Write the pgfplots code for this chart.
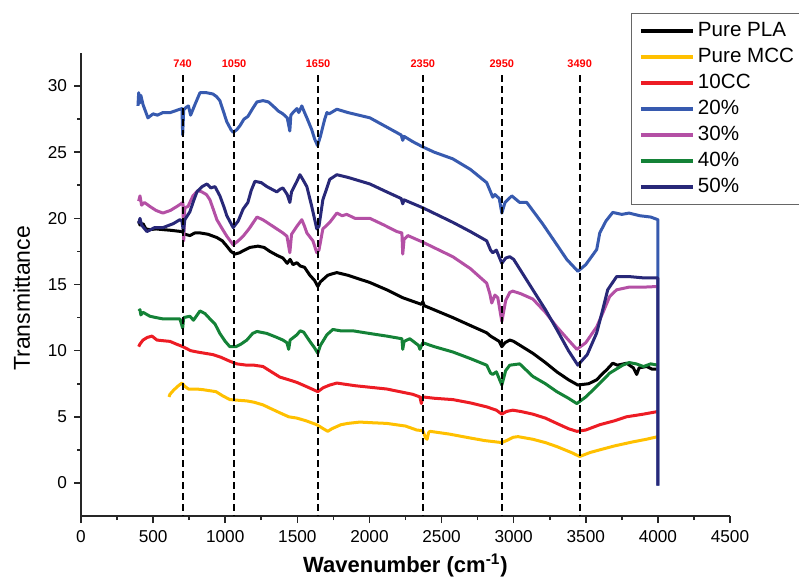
\documentclass[border=0pt]{standalone}
\usepackage{fontspec}
\setmainfont{Liberation Sans}
\usepackage{pgfplots}
\pgfplotsset{compat=1.18}

\definecolor{cmcc}{RGB}{255,192,0}
\definecolor{ccc}{RGB}{237,28,36}
\definecolor{c20}{RGB}{55,90,175}
\definecolor{c30}{RGB}{180,80,165}
\definecolor{c40}{RGB}{20,130,55}
\definecolor{c50}{RGB}{40,40,120}

\tikzset{peakline/.style={black, line width=0.9pt, dash pattern=on 3.5pt off 2pt},
  peaklab/.style={text=red, font=\bfseries\fontsize{5.5}{6}\selectfont}}

\begin{document}
\begin{tikzpicture}
\begin{axis}[
  at={(0,0)}, anchor=south west,
  scale only axis,
  width=324.5pt, height=231.5pt,
  xmin=0, xmax=4500, ymin=-2.5, ymax=32.5,
  axis x line*=bottom, axis y line*=left,
  axis line style={line width=0.9pt, black!85},
  xtick={0,500,...,4500}, ytick={0,5,...,30},
  minor x tick num=1, minor y tick num=1,
  tick align=outside,
  major tick length=3.5pt, minor tick length=2pt,
  tick style={line width=0.8pt, black!85},
  /pgf/number format/1000 sep={},
  /pgf/number format/assume math mode=true,
  ticklabel style={font=\fontsize{8.6}{10}\selectfont},
  xlabel={\textbf{Wavenumber (cm\textsuperscript{-1})}},
  ylabel={Transmittance},
  xlabel style={font=\fontsize{11}{13}\selectfont, yshift=1pt},
  ylabel style={font=\fontsize{11.5}{13}\selectfont, at={(ticklabel cs:0.47)}, yshift=2pt},
  legend style={at={(rel axis cs:0.847,1.086)}, anchor=north west,
    draw=black!60, line width=0.5pt,
    font=\fontsize{10.3}{11}\selectfont,
    inner xsep=4pt, inner ysep=2.2pt, row sep=0pt,
    nodes={inner xsep=1.6pt, inner ysep=0pt, text height=9pt, text depth=4pt}},
  legend cell align=left,
  legend image code/.code={\draw[#1, line width=1.8pt] (0pt,0pt) -- (26pt,0pt);},
  every axis plot/.append style={line width=1.5pt, line join=round},
]

% Pure PLA
\addplot[black] coordinates {
(400,19.8)(409,19.5)(430,19.6)(450,19.2)(478,19.15)(520,19.2)(568,19.15)(620,19.1)(700,19.0)(720,18.8)(755,18.7)(790,18.9)(825,18.9)(880,18.8)(942,18.55)(980,18.3)(1011,17.9)(1040,17.5)(1067,17.3)(1100,17.4)(1124,17.55)(1170,17.8)(1227,17.9)(1270,17.8)(1310,17.5)(1360,17.2)(1400,17.0)(1430,16.6)(1450,16.9)(1470,16.5)(1497,16.65)(1520,16.4)(1550,16.3)(1587,15.7)(1620,15.3)(1642,14.85)(1660,15.2)(1711,15.7)(1740,15.8)(1774,15.9)(1850,15.7)(2003,15.15)(2120,14.6)(2231,14.0)(2360,13.5)(2370,13.7)(2380,13.4)(2578,12.5)(2700,11.9)(2813,11.35)(2840,11.1)(2870,10.9)(2900,10.7)(2918,10.3)(2940,10.6)(2973,10.8)(3000,10.7)(3133,9.8)(3220,9.1)(3299,8.4)(3380,7.8)(3445,7.4)(3520,7.5)(3576,7.8)(3620,8.3)(3645,8.55)(3687,9.05)(3720,8.9)(3783,9.05)(3830,8.7)(3853,8.2)(3870,8.7)(3922,8.8)(3960,8.6)(4000,8.6)
};
\addlegendentry{Pure PLA}

% Pure MCC
\addplot[cmcc] coordinates {
(610,6.5)(617,6.7)(641,7.0)(670,7.3)(700,7.55)(720,7.3)(745,7.1)(800,7.1)(845,7.05)(936,6.9)(980,6.6)(1032,6.3)(1090,6.25)(1150,6.2)(1200,6.1)(1262,5.9)(1320,5.6)(1379,5.3)(1440,5.0)(1497,4.9)(1560,4.7)(1635,4.4)(1680,4.1)(1711,3.9)(1740,4.1)(1802,4.4)(1850,4.5)(1933,4.6)(2020,4.55)(2120,4.5)(2250,4.3)(2328,4.0)(2370,3.95)(2390,3.4)(2400,3.3)(2410,3.8)(2420,3.9)(2550,3.7)(2697,3.4)(2800,3.2)(2918,3.05)(2950,3.2)(2997,3.45)(3030,3.5)(3133,3.3)(3220,3.05)(3299,2.75)(3400,2.3)(3458,2.0)(3530,2.3)(3597,2.5)(3700,2.8)(3825,3.1)(3920,3.3)(4000,3.5)
};
\addlegendentry{Pure MCC}

% 10CC
\addplot[ccc] coordinates {
(400,10.3)(409,10.5)(430,10.8)(460,11.0)(492,11.1)(527,10.8)(570,10.75)(617,10.7)(660,10.5)(707,10.3)(760,10.0)(804,9.9)(860,9.8)(915,9.7)(970,9.5)(1032,9.2)(1080,9.0)(1150,8.9)(1200,8.9)(1262,8.8)(1320,8.4)(1379,8.0)(1440,7.8)(1497,7.6)(1560,7.3)(1642,6.9)(1680,7.2)(1725,7.4)(1774,7.55)(1900,7.35)(2120,7.1)(2300,6.7)(2350,6.5)(2360,6.0)(2370,6.5)(2450,6.4)(2578,6.3)(2700,6.05)(2813,5.75)(2880,5.5)(2918,5.2)(2950,5.4)(2994,5.5)(3050,5.4)(3133,5.2)(3220,4.9)(3299,4.5)(3380,4.1)(3438,3.9)(3500,4.0)(3597,4.4)(3700,4.7)(3783,5.0)(3900,5.2)(4000,5.4)
};
\addlegendentry{10CC}

% 20%
\addplot[c20] coordinates {
(395,28.5)(400,29.5)(405,28.7)(415,29.3)(430,28.6)(464,27.6)(500,27.9)(530,27.8)(568,28.0)(620,28.0)(686,28.25)(700,28.3)(705,26.3)(712,28.2)(730,28.4)(745,28.5)(760,27.8)(790,28.6)(825,29.5)(870,29.5)(915,29.4)(940,29.2)(963,28.9)(990,28.0)(1011,27.3)(1040,26.7)(1055,26.5)(1080,26.7)(1102,27.0)(1130,27.5)(1157,27.7)(1190,28.3)(1220,28.8)(1262,28.9)(1300,28.8)(1331,28.5)(1370,28.1)(1400,27.9)(1430,27.6)(1448,26.6)(1455,27.8)(1470,28.0)(1497,28.3)(1510,28.0)(1531,28.5)(1550,28.0)(1566,27.6)(1600,26.7)(1620,26.0)(1640,25.5)(1660,26.2)(1690,27.5)(1705,28.0)(1720,27.9)(1774,28.25)(1850,28.0)(2003,27.6)(2120,26.9)(2220,26.3)(2231,25.9)(2240,26.2)(2300,25.8)(2370,25.4)(2450,25.0)(2578,24.5)(2700,23.7)(2813,22.7)(2840,22.0)(2855,21.6)(2870,21.8)(2900,21.5)(2918,20.4)(2940,21.2)(2987,21.7)(3042,21.2)(3091,21.2)(3200,19.6)(3300,18.0)(3368,16.9)(3445,16.0)(3500,16.5)(3576,17.65)(3597,18.9)(3640,19.8)(3687,20.45)(3750,20.3)(3800,20.4)(3874,20.2)(3950,20.1)(4000,19.9)(4000,-0.2)
};
\addlegendentry{20\%}

% 30%
\addplot[c30] coordinates {
(400,21.3)(409,21.7)(420,21.0)(440,21.2)(478,20.9)(520,20.6)(568,20.4)(620,20.6)(665,20.9)(707,21.2)(712,18.3)(720,20.8)(742,20.9)(776,21.7)(810,22.1)(838,22.0)(870,21.8)(894,21.4)(920,20.6)(942,19.9)(980,19.2)(1011,18.65)(1055,18.0)(1090,18.3)(1124,18.65)(1150,19.0)(1171,19.3)(1220,20.1)(1260,19.9)(1289,19.7)(1358,19.2)(1400,18.9)(1428,18.65)(1448,17.4)(1460,18.8)(1497,19.4)(1531,19.9)(1550,19.4)(1566,18.9)(1608,18.3)(1635,17.4)(1650,17.6)(1677,19.2)(1725,19.7)(1774,20.4)(1810,20.2)(1843,20.3)(1900,20.0)(2003,20.0)(2100,19.5)(2190,19.0)(2225,18.9)(2231,17.3)(2240,18.4)(2266,18.7)(2370,18.2)(2578,17.1)(2700,16.2)(2813,15.1)(2835,14.3)(2848,13.6)(2870,14.2)(2890,14.0)(2918,12.2)(2945,13.8)(2973,14.4)(2994,14.5)(3050,14.3)(3133,13.9)(3220,12.9)(3299,11.8)(3380,10.8)(3438,10.1)(3500,10.6)(3576,11.8)(3620,12.9)(3666,14.1)(3714,14.6)(3800,14.8)(3900,14.8)(4000,14.85)
};
\addlegendentry{30\%}

% 40%
\addplot[c40] coordinates {
(400,13.0)(409,13.1)(415,12.7)(430,12.9)(478,12.6)(520,12.5)(568,12.4)(640,12.4)(686,12.4)(705,11.7)(712,12.5)(755,12.6)(780,12.3)(825,13.0)(860,12.8)(894,12.4)(930,12.0)(963,11.3)(1000,10.7)(1032,10.3)(1075,10.3)(1110,10.5)(1150,10.8)(1190,11.3)(1220,11.45)(1289,11.3)(1358,11.0)(1400,10.8)(1428,10.6)(1440,10.1)(1450,10.8)(1497,11.2)(1520,11.5)(1544,11.4)(1587,10.7)(1620,10.2)(1642,9.8)(1660,10.4)(1705,11.2)(1746,11.6)(1800,11.5)(1885,11.5)(2000,11.3)(2120,11.1)(2225,10.9)(2231,10.1)(2240,10.7)(2280,10.9)(2340,10.4)(2350,10.1)(2370,10.6)(2450,10.3)(2578,9.9)(2700,9.4)(2813,8.9)(2840,8.3)(2855,8.2)(2880,8.4)(2918,7.4)(2945,8.5)(2973,8.9)(3042,9.0)(3133,8.05)(3220,7.5)(3299,6.9)(3380,6.4)(3438,6.0)(3500,6.5)(3576,7.3)(3666,8.3)(3756,8.9)(3800,9.1)(3850,9.0)(3900,8.8)(3950,9.0)(4000,8.9)
};
\addlegendentry{40\%}

% 50%
\addplot[c50] coordinates {
(400,19.6)(409,20.0)(420,19.5)(457,19.0)(510,19.3)(568,19.3)(640,19.6)(686,19.9)(700,19.8)(710,19.0)(720,19.9)(755,20.5)(780,21.3)(804,22.0)(840,22.4)(873,22.6)(900,22.3)(929,22.4)(963,21.7)(990,20.9)(1011,20.2)(1055,19.3)(1090,19.8)(1124,20.7)(1157,21.2)(1180,22.1)(1206,22.8)(1250,22.7)(1289,22.4)(1358,22.0)(1380,22.2)(1400,22.3)(1430,21.8)(1448,21.2)(1460,22.0)(1497,22.8)(1518,23.3)(1540,22.9)(1566,22.4)(1600,20.9)(1635,19.2)(1650,19.4)(1677,21.4)(1725,22.95)(1774,23.3)(1850,23.1)(2003,22.6)(2120,22.0)(2220,21.5)(2231,21.1)(2240,21.4)(2370,20.8)(2578,19.7)(2700,19.0)(2813,18.3)(2840,17.6)(2855,17.4)(2880,17.6)(2918,16.6)(2945,17.0)(2973,17.1)(3000,16.9)(3133,14.6)(3220,13.1)(3299,11.6)(3380,10.0)(3445,8.9)(3510,9.7)(3576,11.35)(3620,13.2)(3652,14.6)(3714,15.6)(3800,15.6)(3900,15.5)(4000,15.5)(4000,-0.2)
};
\addlegendentry{50\%}

% reference lines and peak labels
\draw[peakline] (axis cs:705,30.8) -- (axis cs:705,-2.5);
\draw[peakline] (axis cs:1061,30.8) -- (axis cs:1061,-2.5);
\draw[peakline] (axis cs:1644,30.8) -- (axis cs:1644,-2.5);
\draw[peakline] (axis cs:2370,30.8) -- (axis cs:2370,-2.5);
\draw[peakline] (axis cs:2918,30.8) -- (axis cs:2918,-2.5);
\draw[peakline] (axis cs:3458,30.8) -- (axis cs:3458,-2.5);
\node[peaklab] at (axis cs:705,31.7) {740};
\node[peaklab] at (axis cs:1061,31.7) {1050};
\node[peaklab] at (axis cs:1644,31.7) {1650};
\node[peaklab] at (axis cs:2370,31.7) {2350};
\node[peaklab] at (axis cs:2918,31.7) {2950};
\node[peaklab] at (axis cs:3458,31.7) {3490};
\end{axis}
\pgfresetboundingbox
\path[use as bounding box] (-40.5pt,-32pt) rectangle (359pt,258pt);
\end{tikzpicture}
\end{document}
